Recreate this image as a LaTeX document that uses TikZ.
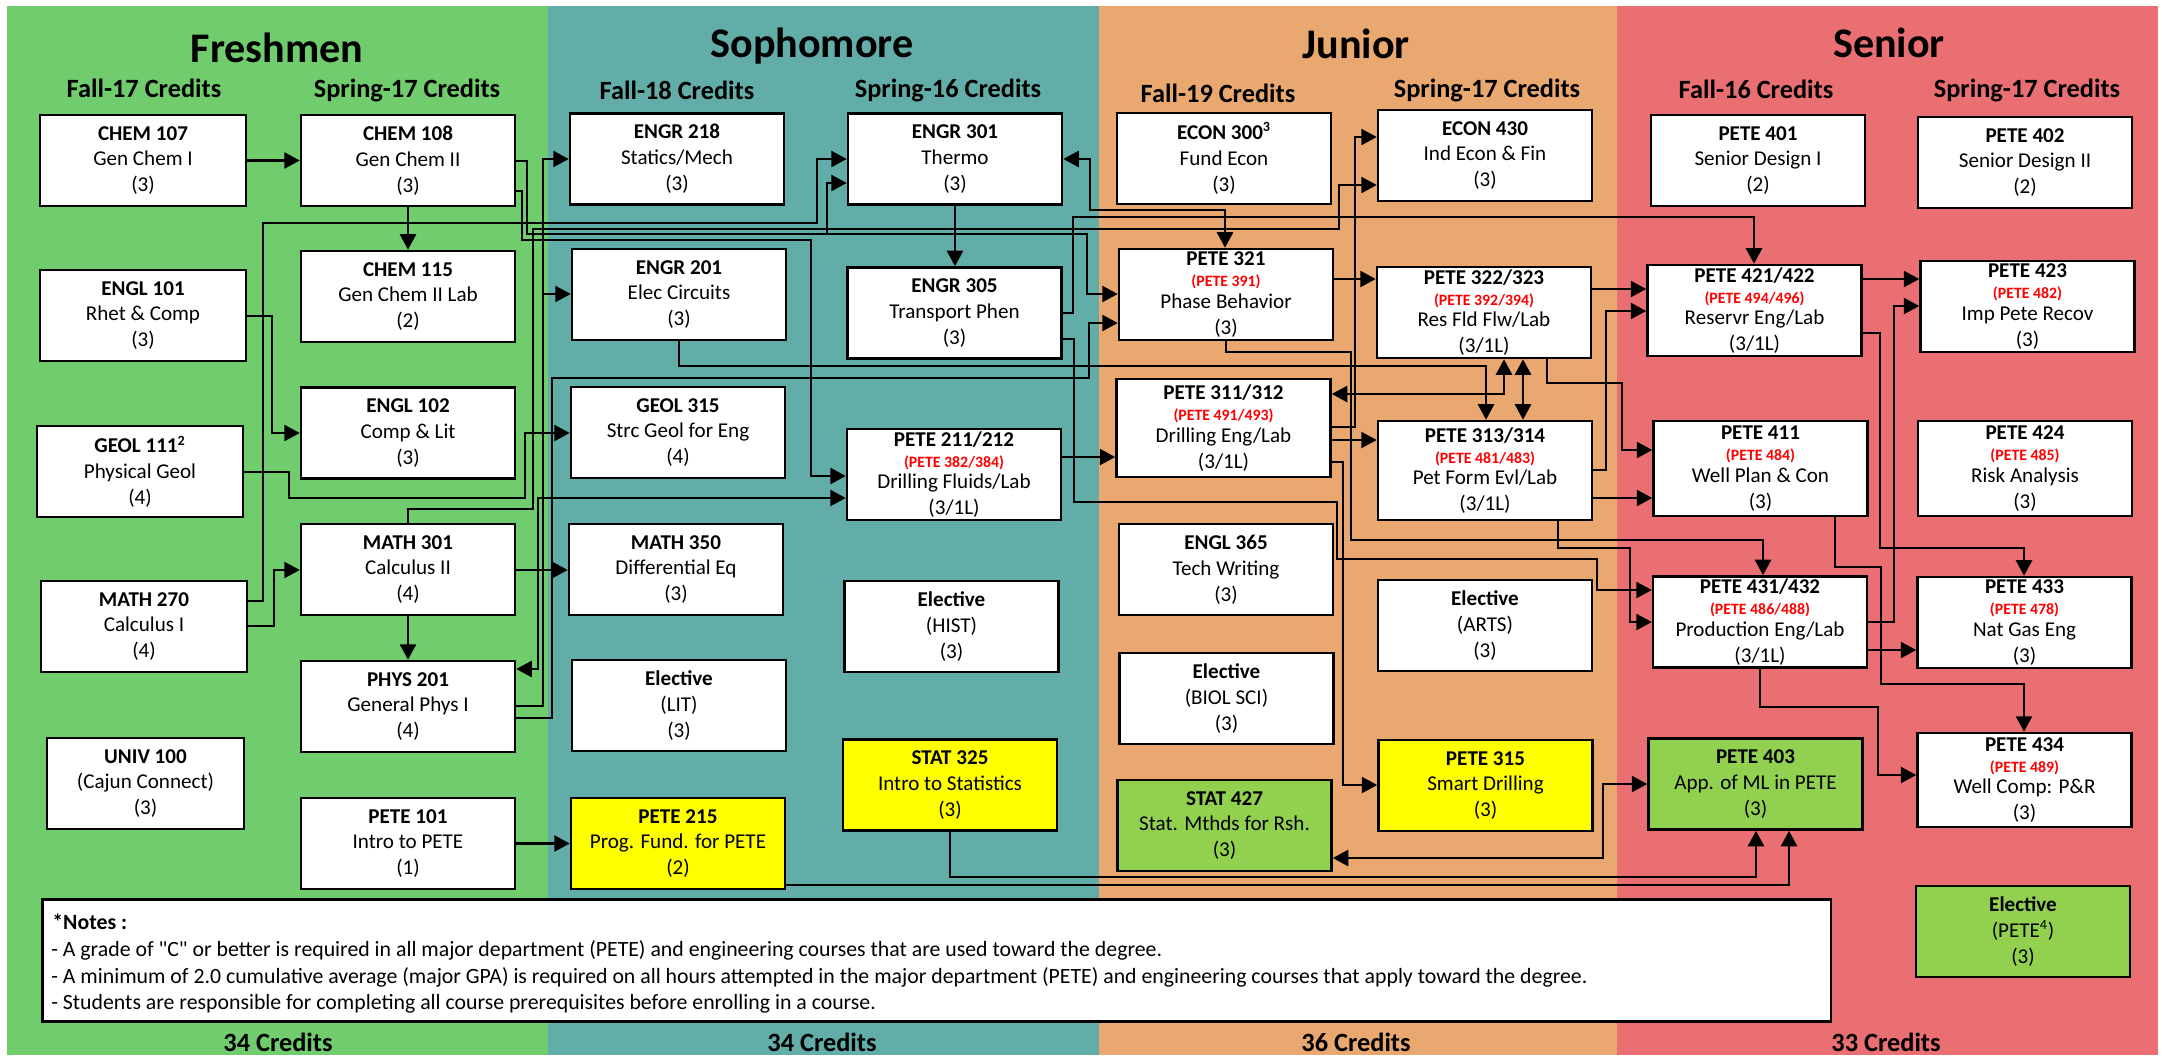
\documentclass[tikz,border=0pt]{standalone}
\usepackage{fontspec}
\setmainfont{Carlito}
\usetikzlibrary{arrows.meta}

\definecolor{freshC}{RGB}{112,204,108}
\definecolor{sophC}{RGB}{99,173,168}
\definecolor{junC}{RGB}{234,168,113}
\definecolor{senC}{RGB}{233,111,114}
\definecolor{mlGreen}{RGB}{146,208,80}
\definecolor{newYellow}{RGB}{255,255,0}

\newcommand{\redsub}{\fontsize{9}{10}\selectfont\bfseries\color{red}}
\newcommand{\crs}[3]{\textbf{#1}\\#2\\#3}
\newcommand{\crsr}[4]{\textbf{#1}\\[-2.8pt]{\redsub(#2)}\\[-2.2pt]#3\\#4}
\newcommand{\sq}{\XeTeXglyph\XeTeXcharglyph"22\relax}

\tikzset{
  course/.style={draw=black, line width=1.45pt, fill=white, minimum width=4.28cm,
    minimum height=1.82cm, align=center, inner sep=1pt,
    font=\fontsize{12}{14.7}\selectfont},
  narrow/.style={minimum width=4.12cm},
  newcourse/.style={course, fill=newYellow},
  mlcourse/.style={course, fill=mlGreen},
  year/.style={font=\fontsize{24}{28}\selectfont\bfseries},
  term/.style={font=\fontsize{15}{18}\selectfont\bfseries},
  notetext/.style={anchor=west, inner sep=0pt, font=\fontsize{12.4}{15}\selectfont},
  prereq/.style={line width=1.5pt, -{Triangle[length=0.31cm,width=0.32cm]}},
  coreq/.style={line width=1.5pt, {Triangle[length=0.31cm,width=0.32cm]}-{Triangle[length=0.31cm,width=0.32cm]}},
}

\begin{document}
\begin{tikzpicture}[x=0.02cm, y=-0.02cm]
    \useasboundingbox (0,0) rectangle (2162,1055);

    \fill[freshC] (7,6) rectangle (548,1055);
    \fill[sophC] (548,6) rectangle (1099,1055);
    \fill[junC] (1099,6) rectangle (1617,1055);
    \fill[senC] (1617,6) rectangle (2158,1055);

    \node[year] (yrA) at (277,48) {Freshmen};
    \node[year] (yrB) at (812,46) {Sophomore};
    \node[year] (yrC) at (1356,44) {Junior};
    \node[year] (yrD) at (1889,43) {Senior};

    \node[term] (tA) at (144,88) {Fall-17 Credits};
    \node[term] (tB) at (407,90) {Spring-17 Credits};
    \node[term] (tC) at (677,90) {Fall-18 Credits};
    \node[term] (tD) at (948,90) {Spring-16 Credits};
    \node[term] (tE) at (1218,93) {Fall-19 Credits};
    \node[term] (tF) at (1487,90) {Spring-17 Credits};
    \node[term] (tG) at (1756,89) {Fall-16 Credits};
    \node[term] (tH) at (2027,90) {Spring-17 Credits};

    \node[course,narrow] (c107) at (143,160.5) {\crs{CHEM 107}{Gen Chem I}{(3)}};
    \node[course,narrow] (e101) at (143,315.5) {\crs{ENGL 101}{Rhet \& Comp}{(3)}};
    \node[course,narrow] (g111) at (140,471.5) {\crs{GEOL 111\textsuperscript{2}}{Physical Geol}{(4)}};
    \node[course,narrow] (m270) at (144,626.5) {\crs{MATH 270}{Calculus I}{(4)}};
    \node[course,minimum width=3.94cm] (u100) at (145.5,783.5) {\crs{UNIV 100}{(Cajun Connect)}{(3)}};

    \node[course] (c108) at (408,160.5) {\crs{CHEM 108}{Gen Chem II}{(3)}};
    \node[course] (c115) at (408,296.5) {\crs{CHEM 115}{Gen Chem II Lab}{(2)}};
    \node[course] (e102) at (408,433) {\crs{ENGL 102}{Comp \& Lit}{(3)}};
    \node[course] (m301) at (408,569.5) {\crs{MATH 301}{Calculus II}{(4)}};
    \node[course] (p201) at (408,706.5) {\crs{PHYS 201}{General Phys I}{(4)}};
    \node[course] (p101) at (408,843.5) {\crs{PETE 101}{Intro to PETE}{(1)}};

    \node[course] (e218) at (677,159) {\crs{ENGR 218}{Statics/Mech}{(3)}};
    \node[course] (e201) at (679,294.5) {\crs{ENGR 201}{Elec Circuits}{(3)}};
    \node[course] (g315) at (678,432.5) {\crs{GEOL 315}{Strc Geol for Eng}{(4)}};
    \node[course] (m350) at (676,569.5) {\crs{MATH 350}{Differential Eq}{(3)}};
    \node[course] (elLit) at (679,705.5) {\crs{Elective}{(LIT)}{(3)}};
    \node[newcourse] (p215) at (678,843.5) {\crs{PETE 215}{Prog. Fund. for PETE}{(2)}};

    \node[course] (e301) at (955,159) {\crs{ENGR 301}{Thermo}{(3)}};
    \node[course] (e305) at (954.5,313) {\crs{ENGR 305}{Transport Phen}{(3)}};
    \node[course] (p211) at (954,474.5) {\crsr{PETE 211/212}{PETE 382/384}{Drilling Fluids/Lab}{(3/1L)}};
    \node[course] (elHist) at (951.5,626.5) {\crs{Elective}{(HIST)}{(3)}};
    \node[newcourse] (s325) at (950,785) {\crs{STAT 325}{Intro to Statistics}{(3)}};

    \node[course] (ec300) at (1224,158.5) {\crs{ECON 300\textsuperscript{3}}{Fund Econ}{(3)}};
    \node[course] (p321) at (1226,294.5) {\crsr{PETE 321}{PETE 391}{Phase Behavior}{(3)}};
    \node[course,minimum height=1.96cm] (p311) at (1223.5,428) {\crsr{PETE 311/312}{PETE 491/493}{Drilling Eng/Lab}{(3/1L)}};
    \node[course] (e365) at (1226,569.5) {\crs{ENGL 365}{Tech Writing}{(3)}};
    \node[course] (elBiol) at (1226.5,698.5) {\crs{Elective}{(BIOL SCI)}{(3)}};
    \node[mlcourse] (s427) at (1224.5,825.5) {\crs{STAT 427}{Stat. Mthds for Rsh.}{(3)}};

    \node[course] (ec430) at (1485,155.5) {\crs{ECON 430}{Ind Econ \& Fin}{(3)}};
    \node[course] (p322) at (1484,312.5) {\crsr{PETE 322/323}{PETE 392/394}{Res Fld Flw/Lab}{(3/1L)}};
    \node[course,minimum height=1.98cm] (p313) at (1485,470.5) {\crsr{PETE 313/314}{PETE 481/483}{Pet Form Evl/Lab}{(3/1L)}};
    \node[course] (elArts) at (1485,625.5) {\crs{Elective}{(ARTS)}{(3)}};
    \node[newcourse] (p315) at (1485.5,785.5) {\crs{PETE 315}{Smart Drilling}{(3)}};

    \node[course] (p401) at (1758,160.5) {\crs{PETE 401}{Senior Design I}{(2)}};
    \node[course] (p421) at (1754.5,310.5) {\crsr{PETE 421/422}{PETE 494/496}{Reservr Eng/Lab}{(3/1L)}};
    \node[course,minimum height=1.9cm] (p411) at (1760.5,468.5) {\crsr{PETE 411}{PETE 484}{Well Plan \& Con}{(3)}};
    \node[course] (p431) at (1760,622) {\crsr{PETE 431/432}{PETE 486/488}{Production Eng/Lab}{(3/1L)}};
    \node[mlcourse] (p403) at (1755.5,784) {\crs{PETE 403}{App. of ML in PETE}{(3)}};

    \node[course] (p402) at (2025,162.5) {\crs{PETE 402}{Senior Design II}{(2)}};
    \node[course] (p423) at (2027.5,306.5) {\crsr{PETE 423}{PETE 482}{Imp Pete Recov}{(3)}};
    \node[course,minimum height=1.9cm] (p424) at (2025,468.5) {\crsr{PETE 424}{PETE 485}{Risk Analysis}{(3)}};
    \node[course] (p433) at (2024.5,622.5) {\crsr{PETE 433}{PETE 478}{Nat Gas Eng}{(3)}};
    \node[course,minimum height=1.88cm] (p434) at (2024.5,780) {\crsr{PETE 434}{PETE 489}{Well Comp: P\&R}{(3)}};
    \node[mlcourse] (elPete) at (2023,931.5) {\crs{Elective}{(PETE\textsuperscript{4})}{(3)}};

    \draw[prereq] (c107.east) -- (c108.west);
    \draw[prereq] (c108.south) -- (c115.north);
    \draw[prereq] (e101.east |- 0,316) -- (272,316) -- (272,433) -- (e102.west |- 0,433);
    \draw[prereq] (g111.east |- 0,472) -- (289,472) -- (289,498) -- (525,498) -- (525,433) -- (g315.west |- 0,433);
    \draw[prereq] (m270.east |- 0,626) -- (274,626) -- (274,570) -- (m301.west |- 0,570);
    \draw[prereq] (m270.east |- 0,601) -- (263,601) -- (263,223) -- (817,223) -- (817,159) -- (e301.west |- 0,159);
    \draw[prereq] (m301.south) -- (p201.north);
    \draw[prereq] (m301.east |- 0,570) -- (m350.west |- 0,570);
    \draw[prereq] (m301.north) -- (408,509) -- (533,509) -- (533,229) -- (1339,229) -- (1339,185) -- (ec430.west |- 0,185);
    \draw[prereq] (c108.east |- 0,161) -- (527,161) -- (527,234) -- (1087,234) -- (1087,294) -- (p321.west |- 0,294);
    \coordinate (jA) at (827,234);
    \draw[prereq] (jA) -- (827,183) -- (e301.west |- 0,183);
    \draw[prereq] (c108.east |- 0,191) -- (522,191) -- (522,240) -- (811,240) -- (811,476) -- (p211.west |- 0,476);
    \draw[prereq] (p201.east |- 0,706) -- (543,706) -- (543,159) -- (e218.west |- 0,159);
    \coordinate (jB) at (543,294);
    \draw[prereq] (jB) -- (e201.west |- 0,294);
    \draw[coreq] (p201.east |- 0,669) -- (538,669) -- (538,498) -- (p211.west |- 0,498);
    \draw[prereq] (p201.east |- 0,718) -- (552,718) -- (552,378) -- (1089,378) -- (1089,323) -- (p321.west |- 0,323);
    \draw[prereq] (p101.east) -- (p215.west);

    \draw[prereq] (e301.south) -- (e301.south |- e305.north);
    \draw[coreq] (e301.east |- 0,159) -- (1090,159) -- (1090,210) -- (1225,210) -- (p321.north -| 1225,0);
    \draw[prereq] (e305.east |- 0,313) -- (1073,313) -- (1073,217) -- (1754,217) -- (p421.north -| 1754,0);
    \draw[prereq] (e305.east |- 0,339) -- (1074,339) -- (1074,502) -- (1337,502) -- (1337,559) -- (1597,559) -- (1597,590) -- (p431.west |- 0,590);
    \draw[prereq] (e201.south) -- (e201.south |- 0,366) -- (1486,366) -- (p313.north -| 1486,0);
    \draw[prereq] (p211.east |- 0,457) -- (p311.west |- 0,457);

    \draw[prereq] (p321.east |- 0,279) -- (p322.west |- 0,279);
    \draw[prereq] (p321.south) -- (p321.south |- 0,352) -- (1351,352) -- (1351,540) -- (1763,540) -- (p431.north -| 1763,0);
    \draw[coreq] (p311.east |- 0,394) -- (1504,394) -- (p322.south -| 1504,0);
    \draw[prereq] (p311.east |- 0,427) -- (1355,427) -- (1355,137) -- (ec430.west |- 0,137);
    \draw[prereq] (p311.east |- 0,440) -- (p313.west |- 0,440);
    \draw[prereq] (p311.east |- 0,462) -- (1343,462) -- (1343,785) -- (p315.west |- 0,785);
    \draw[coreq] (p322.south -| 1523,0) -- (p313.north -| 1523,0);
    \draw[prereq] (p322.east |- 0,289) -- (p421.west |- 0,289);
    \draw[prereq] (p322.south -| 1547,0) -- (1547,383) -- (1622,383) -- (1622,450) -- (p411.west |- 0,450);
    \draw[prereq] (p313.east |- 0,470) -- (1606,470) -- (1606,311) -- (p421.west |- 0,311);
    \draw[prereq] (p313.east |- 0,498) -- (p411.west |- 0,498);
    \draw[prereq] (p313.south -| 1558,0) -- (1558,548) -- (1630,548) -- (1630,622) -- (p431.west |- 0,622);

    \draw[prereq] (p421.east |- 0,279) -- (p423.west |- 0,279);
    \draw[prereq] (p421.east |- 0,333) -- (1880,333) -- (1880,548) -- (2024,548) -- (p433.north -| 2024,0);
    \draw[prereq] (p431.east |- 0,622) -- (1894,622) -- (1894,306) -- (p423.west |- 0,306);
    \draw[prereq] (p431.east |- 0,650) -- (p433.west |- 0,650);
    \draw[prereq] (p411.south -| 1835,0) -- (1835,567) -- (1881,567) -- (1881,684) -- (2024,684) -- (p434.north -| 2024,0);
    \draw[prereq] (p431.south -| 1760,0) -- (1760,707) -- (1878,707) -- (1878,775) -- (p434.west |- 0,775);
    \draw[coreq] (p403.west |- 0,784) -- (1603,784) -- (1603,858) -- (s427.east |- 0,858);
    \draw[prereq] (s325.south) -- (s325.south |- 0,877) -- (1756,877) -- (p403.south -| 1756,0);
    \draw[prereq] (p215.east |- 0,885) -- (1789,885) -- (p403.south -| 1789,0);

    \node[draw, line width=1.45pt, fill=white, anchor=north west, minimum width=35.78cm, minimum height=2.44cm] (notes) at (41,898) {};
    \node[notetext] (nA) at (52,922) {\textbf{*Notes :}};
    \node[notetext] (nB) at (51,950) {- A grade of \sq C\sq{} or better is required in all major department (PETE) and engineering courses that are used toward the degree.};
    \node[notetext] (nC) at (51,977) {- A minimum of 2.0 cumulative average (major GPA) is required on all hours attempted in the major department (PETE) and engineering courses that apply toward the degree.};
    \node[notetext] (nD) at (51,1004) {- Students are responsible for completing all course prerequisites before enrolling in a course.};

    \node[term] (crA) at (278,1042) {34 Credits};
    \node[term] (crB) at (822,1042) {34 Credits};
    \node[term] (crC) at (1356,1042) {36 Credits};
    \node[term] (crD) at (1886,1042) {33 Credits};
\end{tikzpicture}
\end{document}
